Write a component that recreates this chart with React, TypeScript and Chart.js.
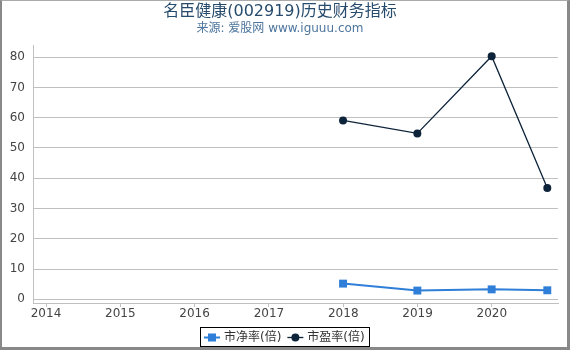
import React, { useEffect, useRef } from 'react';
import { Chart, registerables } from 'chart.js';

Chart.register(...registerables);

const TITLE = '名臣健康(002919)历史财务指标';
const SUBTITLE = '来源: 爱股网 www.iguuu.com';

const reportDates = ['2017-12-31', '2018-12-31', '2019-12-31', '2020-09-30'];
const pbValues = [5.2, 2.9, 3.3, 3.0];
const peValues = [59.1, 54.8, 80.3, 36.8];
const seriesNames = ['市净率(倍)', '市盈率(倍)'];
const seriesColors = ['#2f7ed8', '#0d233a'];
const yearTicks = [2014, 2015, 2016, 2017, 2018, 2019, 2020];
const valueTicks = [0, 10, 20, 30, 40, 50, 60, 70, 80];

const FONT = "'DejaVu Sans', 'Noto Sans CJK SC', sans-serif";

function toYear(d: string): number {
  const [y, m, dd] = d.split('-').map(Number);
  const start = Date.UTC(y, 0, 1);
  const end = Date.UTC(y + 1, 0, 1);
  return y + (Date.UTC(y, m - 1, dd) - start) / (end - start);
}

const boxLegend = {
  id: 'boxLegend',
  afterDraw(chart: any) {
    const ctx = chart.ctx as CanvasRenderingContext2D;
    ctx.save();
    ctx.font = `12px ${FONT}`;
    const items = chart.data.datasets.map((ds: any) => ({ ds, w: ctx.measureText(ds.label).width }));
    const pad = 4, sym = 16, gap = 4, between = 6;
    const total = pad * 2 + items.reduce((s: number, it: any) => s + sym + gap + it.w, 0) + between * (items.length - 1);
    const x0 = Math.round((chart.width - total) / 2);
    const h = 20;
    const top = chart.height - h - 0;
    const cy = top + h / 2 + 0.5;
    ctx.strokeStyle = '#000';
    ctx.lineWidth = 1;
    ctx.strokeRect(x0 + 0.5, top + 0.5, Math.round(total), h - 1);
    let cx = x0 + pad;
    items.forEach((it: any) => {
      const ds = it.ds;
      ctx.strokeStyle = ds.borderColor;
      ctx.lineWidth = ds.borderWidth;
      ctx.beginPath();
      ctx.moveTo(cx, cy);
      ctx.lineTo(cx + sym, cy);
      ctx.stroke();
      ctx.fillStyle = ds.borderColor;
      if (ds.pointStyle === 'rect') {
        ctx.fillRect(cx + sym / 2 - 4, cy - 4, 8, 8);
      } else {
        ctx.beginPath();
        ctx.arc(cx + sym / 2, cy, 4, 0, Math.PI * 2);
        ctx.fill();
      }
      cx += sym + gap;
      ctx.fillStyle = '#333';
      ctx.textAlign = 'left';
      ctx.textBaseline = 'middle';
      ctx.fillText(ds.label, cx, cy);
      cx += it.w + between;
    });
    ctx.restore();
  },
};

export default function App() {
  const ref = useRef<HTMLCanvasElement | null>(null);

  useEffect(() => {
    document.body.style.margin = '0';
    const xs = reportDates.map(toYear);
    const chart = new Chart(ref.current as HTMLCanvasElement, {
      type: 'line',
      data: {
        datasets: [
          {
            label: seriesNames[0],
            data: xs.map((x, i) => ({ x, y: pbValues[i] })),
            borderColor: seriesColors[0],
            backgroundColor: seriesColors[0],
            borderWidth: 2,
            pointStyle: 'rect',
            pointRadius: 5.6,
            pointBorderWidth: 0,
            tension: 0,
          },
          {
            label: seriesNames[1],
            data: xs.map((x, i) => ({ x, y: peValues[i] })),
            borderColor: seriesColors[1],
            backgroundColor: seriesColors[1],
            borderWidth: 1.3,
            pointStyle: 'circle',
            pointRadius: 4,
            pointBorderWidth: 0,
            tension: 0,
          },
        ],
      },
      options: {
        animation: false,
        responsive: false,
        maintainAspectRatio: false,
        layout: { padding: { top: 0, left: 0, right: 9, bottom: 24 } },
        plugins: {
          legend: { display: false },
          tooltip: { enabled: false },
          title: {
            display: true,
            text: TITLE,
            color: '#274b6d',
            font: { family: FONT, size: 16, weight: 'normal' },
            padding: { top: 1.2, bottom: 0.1 },
          },
          subtitle: {
            display: true,
            text: SUBTITLE,
            color: '#4d759e',
            font: { family: FONT, size: 12, weight: 'normal' },
            padding: { top: 0.3, bottom: 8.8 },
          },
        },
        scales: {
          x: {
            type: 'linear',
            min: 2013.825,
            max: 2020.89,
            afterBuildTicks: (scale: any) => {
              scale.ticks = yearTicks.map((v) => ({ value: v }));
            },
            afterFit: (scale: any) => {
              scale.height = 20;
            },
            ticks: {
              color: '#444',
              font: { family: FONT, size: 12 },
              padding: -0.5,
              maxRotation: 0,
              autoSkip: false,
              callback: (v: any) => String(v),
            },
            grid: {
              display: true,
              drawOnChartArea: false,
              drawTicks: true,
              tickLength: 4,
              color: '#c0c0c0',
            },
            border: { display: true, color: '#c0c0c0' },
          },
          y: {
            type: 'linear',
            min: -1.2,
            max: 84,
            afterBuildTicks: (scale: any) => {
              scale.ticks = valueTicks.map((v) => ({ value: v }));
            },
            afterFit: (scale: any) => {
              scale.width = 31;
            },
            ticks: {
              color: '#444',
              font: { family: FONT, size: 12 },
              padding: 8,
              callback: (v: any) => String(v),
            },
            grid: {
              color: '#c0c0c0',
              drawTicks: false,
            },
            border: { display: true, color: '#c0c0c0' },
          },
        },
      },
      plugins: [boxLegend],
    } as any);
    return () => chart.destroy();
  }, []);

  return (
    <div
      style={{
        width: 565,
        height: 346,
        borderLeft: '2px solid #888',
        borderTop: '1px solid #aaa',
        borderRight: '3px solid #888',
        borderBottom: '3px solid #888',
        background: '#fff',
      }}
    >
      <canvas ref={ref} width={565} height={346} style={{ display: 'block' }} />
    </div>
  );
}
